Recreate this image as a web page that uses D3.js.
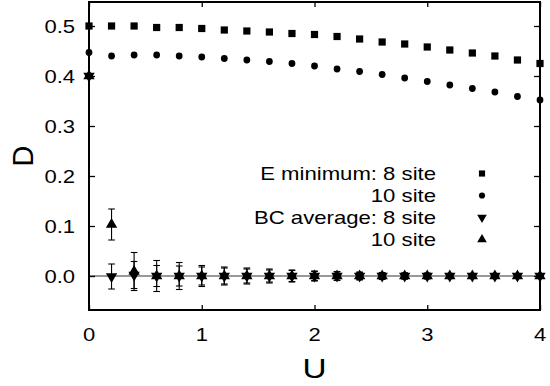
<!DOCTYPE html>
<html>
<head>
<meta charset="utf-8">
<script src="https://cdn.jsdelivr.net/npm/d3@7"></script>
<style>
  body { margin: 0; background: #fff; }
  text { font-family: "Liberation Sans", Arial, sans-serif; fill: #000; }
</style>
</head>
<body>
<svg width="550" height="386"></svg>
<script>
// U values (x) shared by all series
var uValues = [0, 0.2, 0.4, 0.6, 0.8, 1.0, 1.2, 1.4, 1.6, 1.8, 2.0, 2.2, 2.4, 2.6, 2.8, 3.0, 3.2, 3.4, 3.6, 3.8, 4.0];

// E minimum series
var eMin8 = [0.500, 0.500, 0.500, 0.497, 0.497, 0.495, 0.492, 0.490, 0.488, 0.485, 0.483, 0.479, 0.474, 0.468, 0.464, 0.458, 0.452, 0.446, 0.440, 0.432, 0.425];
var eMin10 = [0.447, 0.440, 0.442, 0.442, 0.440, 0.438, 0.435, 0.432, 0.429, 0.425, 0.420, 0.414, 0.409, 0.403, 0.396, 0.389, 0.382, 0.375, 0.368, 0.359, 0.352];

// BC average series with error bars
var bc8 = [0.400, -0.001, 0.002, 0, 0, 0, 0, 0, 0, 0, 0, 0, 0, 0, 0, 0, 0, 0, 0, 0, 0];
var bc8Err = [0, 0.025, 0.027, 0.021, 0.02, 0.018, 0.016, 0.014, 0.012, 0.011, 0.009, 0.008, 0.007, 0.006, 0.006, 0.005, 0.005, 0.004, 0.004, 0.004, 0.003];
var bc10 = [0.400, 0.103, 0.009, 0, 0, 0, 0, 0, 0, 0, 0, 0, 0, 0, 0, 0, 0, 0, 0, 0, 0];
var bc10Err = [0, 0.031, 0.038, 0.031, 0.027, 0.021, 0.018, 0.016, 0.014, 0.012, 0.010, 0.009, 0.008, 0.007, 0.006, 0.006, 0.005, 0.005, 0.004, 0.004, 0.004];

var xTicks = [0, 1, 2, 3, 4];
var yTicks = [0, 0.1, 0.2, 0.3, 0.4, 0.5];

var legendLabels = ['E minimum: 8 site', '10 site', 'BC average: 8 site', '10 site'];

var svg = d3.select('svg');
var padding = {l: 89, r: 10, t: 2, b: 76};
var width = 550 - padding.l - padding.r;
var height = 386 - padding.t - padding.b;
var stretch = 1.19; // the reference text is wider than plain Arial

var xScale = d3.scaleLinear().domain([0, 4]).range([0, width]);
var yScale = d3.scaleLinear().domain([-0.068, 0.548]).range([height, 0]);

var chart = svg.append('g').attr('transform', 'translate(' + [padding.l, padding.t] + ')');

function label(parent, str, x, y, anchor, size) {
    return parent.append('text').text(str)
        .attr('transform', 'translate(' + [x, y] + ')scale(' + stretch + ',1)')
        .attr('text-anchor', anchor)
        .style('font-size', size + 'px');
}

// zero line
chart.append('line')
    .attr('x1', 0).attr('x2', width)
    .attr('y1', yScale(0)).attr('y2', yScale(0))
    .attr('stroke', '#333').attr('stroke-width', 1.1);

// axes (ticks pointing inward), labels drawn separately
var xAxis = d3.axisBottom(xScale).tickValues(xTicks).tickSize(-5).tickFormat('');
var yAxis = d3.axisLeft(yScale).tickValues(yTicks).tickSize(-6).tickFormat('');

var gx = chart.append('g').attr('transform', 'translate(0,' + height + ')').call(xAxis);
var gy = chart.append('g').call(yAxis);
var gxTop = chart.append('g').call(d3.axisTop(xScale).tickValues(xTicks).tickSize(-5).tickFormat(''));
var gyRight = chart.append('g').attr('transform', 'translate(' + width + ',0)')
    .call(d3.axisRight(yScale).tickValues(yTicks).tickSize(-6).tickFormat(''));

[gx, gy, gxTop, gyRight].forEach(function(g) {
    g.select('.domain').remove();
    g.selectAll('.tick line').attr('stroke', '#000').attr('stroke-width', 1.3);
});

xTicks.forEach(function(t) {
    label(chart, d3.format('d')(t), xScale(t), height + 31, 'middle', 18.5);
});
yTicks.forEach(function(t) {
    label(chart, d3.format('.1f')(t), -14, yScale(t) + 7, 'end', 18.5);
});

// frame
chart.append('rect')
    .attr('width', width).attr('height', height)
    .attr('fill', 'none').attr('stroke', '#000').attr('stroke-width', 2);

// axis labels
label(svg, 'U', padding.l + width / 2, 378, 'middle', 28);
svg.append('text').text('D')
    .attr('transform', 'translate(33,' + (padding.t + height / 2) + ')rotate(-90)')
    .attr('text-anchor', 'middle').style('font-size', '29px');

var squareSym = d3.symbol().type(d3.symbolSquare).size(52);
var circleSym = d3.symbol().type(d3.symbolCircle).size(36);
var triSym = d3.symbol().type(d3.symbolTriangle).size(56);

function rows(ys, errs) {
    return uValues.map(function(u, i) { return {u: u, v: ys[i], e: errs ? errs[i] : 0}; });
}

// error bars
function drawErrors(data) {
    var g = chart.append('g').attr('stroke', '#000').attr('stroke-width', 1.1);
    data.filter(function(d) { return d.e > 0; }).forEach(function(d) {
        var x = xScale(d.u);
        var y1 = yScale(d.v + d.e), y2 = yScale(d.v - d.e);
        g.append('line').attr('x1', x).attr('x2', x).attr('y1', y1).attr('y2', y2);
        g.append('line').attr('x1', x - 3.3).attr('x2', x + 3.3).attr('y1', y1).attr('y2', y1);
        g.append('line').attr('x1', x - 3.3).attr('x2', x + 3.3).attr('y1', y2).attr('y2', y2);
    });
}

var bc8Data = rows(bc8, bc8Err);
var bc10Data = rows(bc10, bc10Err);
drawErrors(bc8Data);
drawErrors(bc10Data);

function drawMarkers(data, sym, rot) {
    chart.append('g').selectAll('path')
        .data(data).enter()
        .append('path')
        .attr('d', sym)
        .attr('fill', '#000')
        .attr('transform', function(d) {
            return 'translate(' + [xScale(d.u), yScale(d.v)] + ')' + (rot ? 'rotate(' + rot + ')' : '');
        });
}

drawMarkers(rows(eMin8), squareSym, 0);
drawMarkers(rows(eMin10), circleSym, 0);
drawMarkers(bc8Data, triSym, 180);
drawMarkers(bc10Data, triSym, 0);

// legend
var legendSyms = [
    {sym: d3.symbol().type(d3.symbolSquare).size(38), rot: 0},
    {sym: d3.symbol().type(d3.symbolCircle).size(30), rot: 0},
    {sym: d3.symbol().type(d3.symbolTriangle).size(40), rot: 180},
    {sym: d3.symbol().type(d3.symbolTriangle).size(40), rot: 0}
];
var legend = svg.append('g');
legendLabels.forEach(function(str, i) {
    var cy = 173.5 + i * 22;
    label(legend, str, 436, cy + 6.5, 'end', 18.6);
    legend.append('path')
        .attr('d', legendSyms[i].sym)
        .attr('fill', '#000')
        .attr('transform', 'translate(' + [482, cy] + ')' + (legendSyms[i].rot ? 'rotate(180)' : ''));
});
</script>
</body>
</html>
